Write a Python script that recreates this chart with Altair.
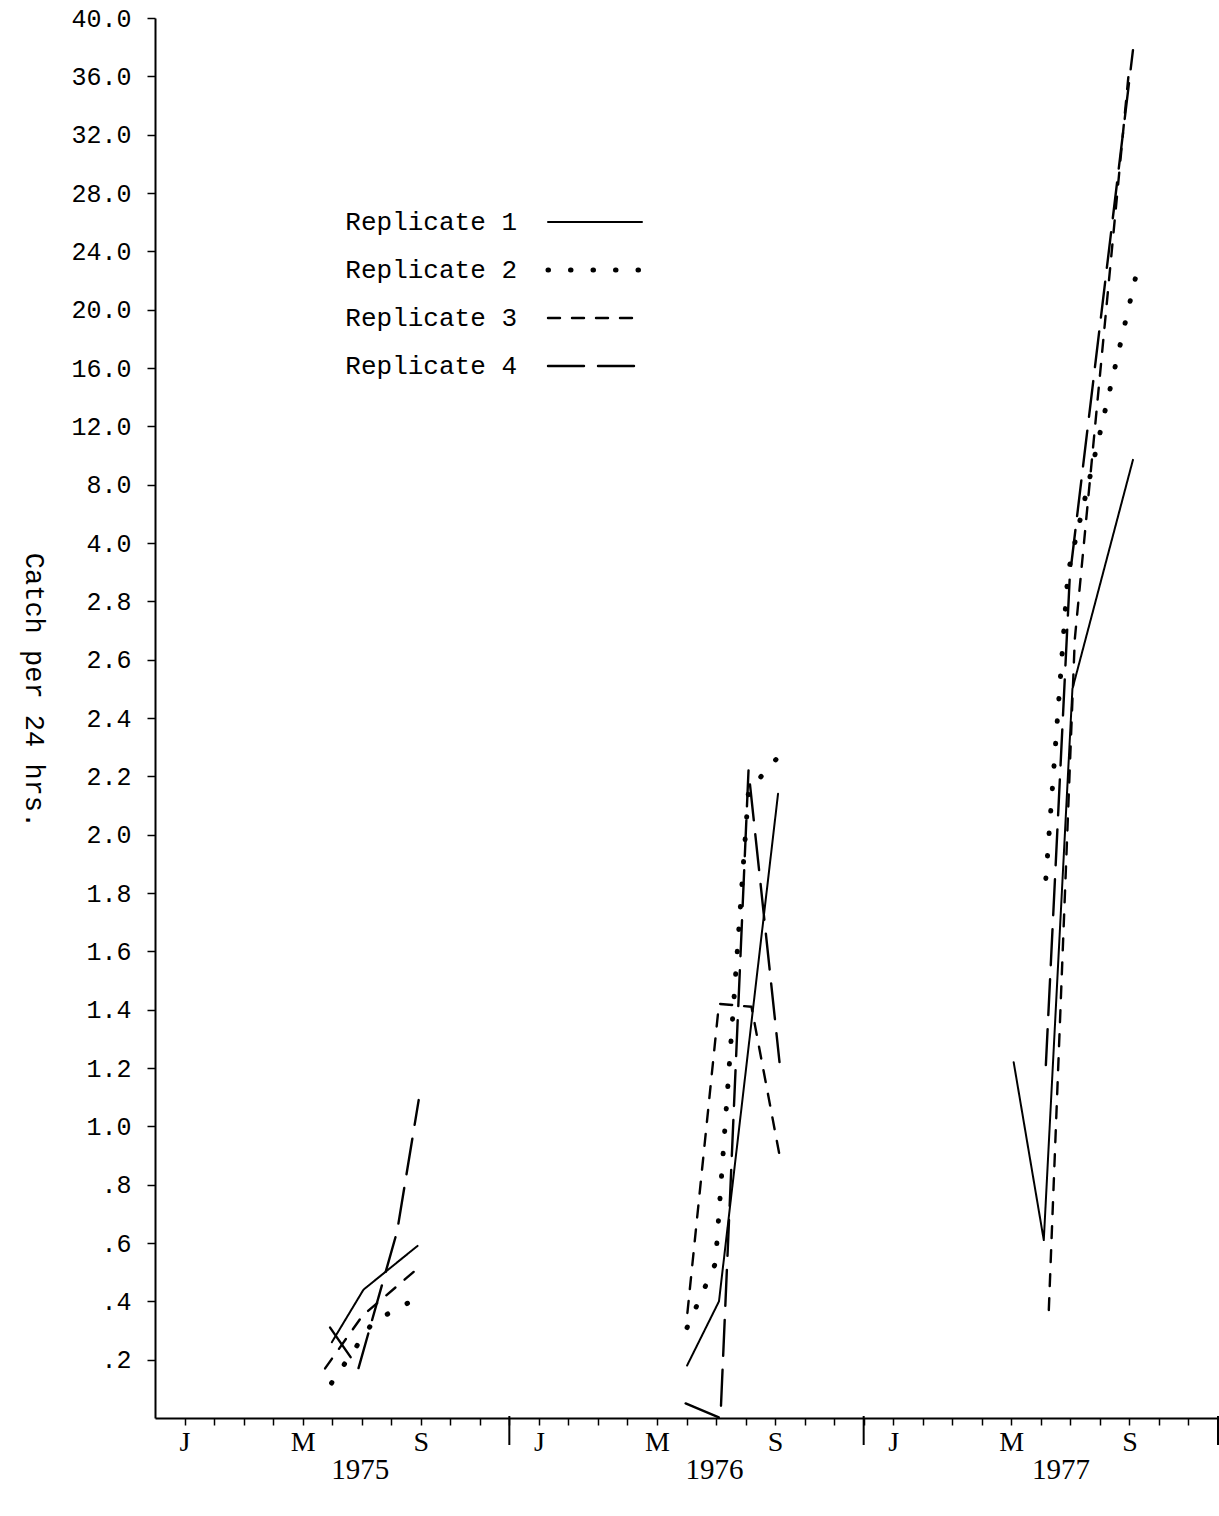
import altair as alt
import pandas as pd

series_names = ["Replicate 1", "Replicate 2", "Replicate 3", "Replicate 4"]

# month index: Jan 1975 = 1 ... Dec 1977 = 36
r1_1975_m = [5.99, 7.06, 8.89]
r1_1975_v = [0.26, 0.44, 0.59]
r2_1975_m = [5.98, 7.39, 9.04]
r2_1975_v = [0.12, 0.33, 0.42]
r3_1975_m = [5.76, 7.02, 8.98]
r3_1975_v = [0.17, 0.35, 0.52]
r4_1975_m = [5.93, 6.89, 8.20, 8.93]
r4_1975_v = [0.31, 0.17, 0.64, 1.09]

r1_1976_m = [18.02, 19.10, 21.10]
r1_1976_v = [0.18, 0.40, 2.14]
r2_1976_m = [18.02, 18.98, 20.10, 21.05]
r2_1976_v = [0.31, 0.53, 2.15, 2.26]
r3_1976_m = [18.03, 19.10, 20.20, 21.19]
r3_1976_v = [0.36, 1.42, 1.41, 0.88]
r4_1976_m = [17.97, 19.15, 20.10, 21.15]
r4_1976_v = [0.05, 0.00, 2.22, 1.22]

r1_1977_m = [29.08, 30.10, 31.07, 33.12]
r1_1977_v = [1.22, 0.61, 2.50, 9.7]
r2_1977_m = [30.17, 30.92, 33.32]
r2_1977_v = [1.85, 3.39, 23.2]
r3_1977_m = [30.27, 31.15, 32.98]
r3_1977_v = [0.37, 2.67, 36.3]
r4_1977_m = [30.17, 30.98, 33.12]
r4_1977_v = [1.21, 3.30, 37.8]

y_ticks = [0.2, 0.4, 0.6, 0.8, 1.0, 1.2, 1.4, 1.6, 1.8, 2.0, 2.2, 2.4, 2.6, 2.8,
           4.0, 8.0, 12.0, 16.0, 20.0, 24.0, 28.0, 32.0, 36.0, 40.0]
year_labels = ["1975", "1976", "1977"]
year_label_months = [6.95, 18.95, 30.68]
year_bounds = [12, 24, 36]

groups = [
    ("Replicate 1", "1975", r1_1975_m, r1_1975_v),
    ("Replicate 2", "1975", r2_1975_m, r2_1975_v),
    ("Replicate 3", "1975", r3_1975_m, r3_1975_v),
    ("Replicate 4", "1975", r4_1975_m, r4_1975_v),
    ("Replicate 1", "1976", r1_1976_m, r1_1976_v),
    ("Replicate 2", "1976", r2_1976_m, r2_1976_v),
    ("Replicate 3", "1976", r3_1976_m, r3_1976_v),
    ("Replicate 4", "1976", r4_1976_m, r4_1976_v),
    ("Replicate 1", "1977", r1_1977_m, r1_1977_v),
    ("Replicate 2", "1977", r2_1977_m, r2_1977_v),
    ("Replicate 3", "1977", r3_1977_m, r3_1977_v),
    ("Replicate 4", "1977", r4_1977_m, r4_1977_v),
]
rows = []
for name, yr, ms, vs in groups:
    for m, v in zip(ms, vs):
        rows.append({"series": name, "segment": name + " " + yr, "month": m, "value": v})
df = pd.DataFrame(rows)

W, H = 1063, 1400
y_domain = [0.0] + y_ticks
step = H / (len(y_domain) - 1)
y_range = [H - k * step for k in range(len(y_domain))]

x_scale = alt.Scale(domain=[0, 36], nice=False, zero=False)
y_scale = alt.Scale(domain=y_domain, range=y_range, nice=False, zero=False)
dash_scale = alt.Scale(type="ordinal", domain=series_names,
                       range=[[1, 0], [0.5, 22], [12, 12], [36, 14]])
width_scale = alt.Scale(type="ordinal", domain=series_names, range=[2, 5, 2.4, 2.4])

x_axis = alt.Axis(
    values=list(range(1, 36)),
    labelExpr="(datum.value % 12 == 1) ? 'J' : (datum.value % 12 == 5) ? 'M' : (datum.value % 12 == 9) ? 'S' : ''",
    tickSize=7, tickWidth=1.5, domainWidth=2, domainColor="black", tickColor="black",
    labelFont="Liberation Serif", labelFontSize=28, labelColor="black", labelPadding=3,
    labelOverlap=False, title=None, grid=False,
)
y_axis = alt.Axis(
    values=y_ticks,
    labelExpr="datum.value < 1 ? substring(format(datum.value, '.1f'), 1) : format(datum.value, '.1f')",
    tickSize=8, tickWidth=1.5, domainWidth=2, domainColor="black", tickColor="black",
    labelFont="Liberation Mono", labelFontSize=25, labelColor="black", labelPadding=16,
    labelOverlap=False, grid=False,
    title="Catch per 24 hrs.", titleFont="Liberation Mono", titleFontSize=27,
    titleFontWeight="normal", titleColor="black", titleAngle=90, titleX=-122, titleY=672,
    titleAlign="center", titleBaseline="middle",
)

lines = alt.Chart(df).mark_line(color="black", strokeCap="round", strokeJoin="round").encode(
    x=alt.X("month:Q", scale=x_scale, axis=x_axis),
    y=alt.Y("value:Q", scale=y_scale, axis=y_axis),
    strokeDash=alt.StrokeDash("series:N", scale=dash_scale, legend=None),
    strokeWidth=alt.StrokeWidth("series:N", scale=width_scale, legend=None),
    detail="segment:N",
    order="month:Q",
)

bounds = alt.Chart(pd.DataFrame({"month": year_bounds})).mark_rule(color="black", strokeWidth=2).encode(
    x=alt.X("month:Q", scale=x_scale, axis=x_axis),
    y=alt.value(H - 2),
    y2=alt.value(H + 27),
)

years = alt.Chart(pd.DataFrame({"year": year_labels, "month": year_label_months})).mark_text(
    font="Liberation Serif", fontSize=29, color="black", baseline="middle", align="center"
).encode(
    x=alt.X("month:Q", scale=x_scale, axis=x_axis),
    y=alt.value(H + 52),
    text="year:N",
)

leg_df = pd.DataFrame({"series": series_names})
leg_y = alt.Y("series:N", scale=alt.Scale(type="point", domain=series_names, range=[204, 348], padding=0), axis=None)
leg_rules = alt.Chart(leg_df).mark_rule(color="black", strokeCap="round").encode(
    x=alt.value(393), x2=alt.value(487), y=leg_y,
    strokeDash=alt.StrokeDash("series:N", scale=dash_scale, legend=None),
    strokeWidth=alt.StrokeWidth("series:N", scale=width_scale, legend=None),
)
leg_text = alt.Chart(leg_df).mark_text(
    font="Liberation Mono", fontSize=26, color="black", align="right", baseline="middle"
).encode(x=alt.value(362), y=leg_y, text="series:N")

chart = alt.layer(lines, bounds, years, leg_rules, leg_text).resolve_scale(
    y="independent"
).properties(
    width=W, height=H,
    padding={"left": 155, "top": 18, "right": 1, "bottom": 98},
    autosize=alt.AutoSizeParams(type="none"),
    background="white",
).configure_view(stroke=None)

chart.save("out.html", embed_options={"renderer": "svg", "actions": False})
